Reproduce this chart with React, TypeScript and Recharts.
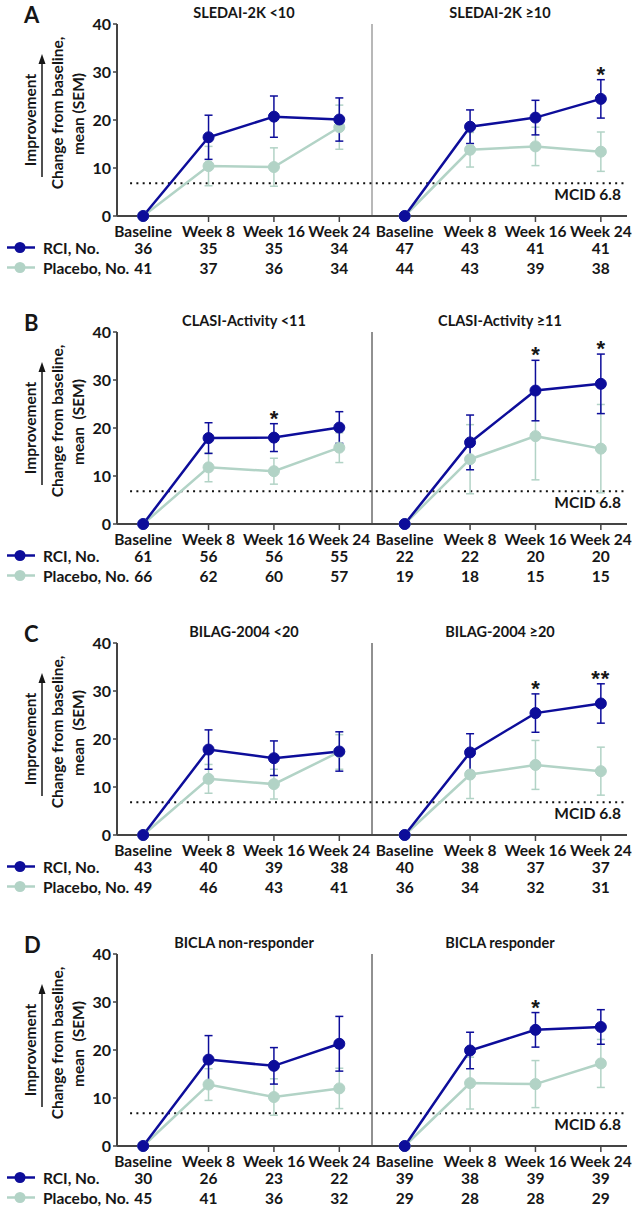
import React from 'react'
import { LineChart, Line, XAxis, YAxis, ErrorBar, ReferenceLine } from 'recharts'

const WEEKS = ['Baseline', 'Week 8', 'Week 16', 'Week 24']
const X_POS = [0, 1, 2, 3, 4, 5, 6, 7]
const Y_TICKS = [0, 10, 20, 30, 40]
const MCID = 6.8

const RCI_COLOR = '#0d0d9a'
const PBO_COLOR = '#b2d3c6'
const TEXT = '#161616'
const AXIS = '#444'
const FONT = 'Lato, "Open Sans", sans-serif'

// A: SLEDAI-2K (left 4 points, then right 4 points)
const A_TITLES = ['SLEDAI-2K <10', 'SLEDAI-2K ≥10']
const A_RCI_MEAN = [0, 16.4, 20.7, 20.1, 0, 18.6, 20.5, 24.4]
const A_RCI_SEM = [0, 4.6, 4.3, 4.5, 0, 3.5, 3.6, 4.0]
const A_PBO_MEAN = [0, 10.4, 10.2, 18.5, 0, 13.8, 14.5, 13.4]
const A_PBO_SEM = [0, 4.1, 4.0, 4.6, 0, 3.6, 4.0, 4.1]
const A_RCI_N = [36, 35, 35, 34, 47, 43, 41, 41]
const A_PBO_N = [41, 37, 36, 34, 44, 43, 39, 38]
const A_STARS = ['', '', '', '', '', '', '', '*']

// B: CLASI-Activity
const B_TITLES = ['CLASI-Activity <11', 'CLASI-Activity ≥11']
const B_RCI_MEAN = [0, 17.9, 18.0, 20.1, 0, 17.0, 27.8, 29.2]
const B_RCI_SEM = [0, 3.2, 2.9, 3.3, 0, 5.7, 6.3, 6.2]
const B_PBO_MEAN = [0, 11.8, 11.0, 15.9, 0, 13.5, 18.3, 15.7]
const B_PBO_SEM = [0, 3.0, 2.7, 3.1, 0, 7.2, 9.1, 9.2]
const B_RCI_N = [61, 56, 56, 55, 22, 22, 20, 20]
const B_PBO_N = [66, 62, 60, 57, 19, 18, 15, 15]
const B_STARS = ['', '', '*', '', '', '', '*', '*']

// C: BILAG-2004
const C_TITLES = ['BILAG-2004 <20', 'BILAG-2004 ≥20']
const C_RCI_MEAN = [0, 17.8, 16.0, 17.4, 0, 17.2, 25.4, 27.4]
const C_RCI_SEM = [0, 4.1, 3.6, 4.1, 0, 3.9, 4.0, 4.1]
const C_PBO_MEAN = [0, 11.7, 10.6, 17.3, 0, 12.6, 14.6, 13.3]
const C_PBO_SEM = [0, 3.0, 3.1, 3.6, 0, 5.0, 5.1, 5.0]
const C_RCI_N = [43, 40, 39, 38, 40, 38, 37, 37]
const C_PBO_N = [49, 46, 43, 41, 36, 34, 32, 31]
const C_STARS = ['', '', '', '', '', '', '*', '**']

// D: BICLA
const D_TITLES = ['BICLA non-responder', 'BICLA responder']
const D_RCI_MEAN = [0, 18.0, 16.7, 21.3, 0, 19.9, 24.2, 24.8]
const D_RCI_SEM = [0, 5.0, 3.8, 5.7, 0, 3.8, 3.6, 3.6]
const D_PBO_MEAN = [0, 12.8, 10.2, 12.0, 0, 13.1, 12.9, 17.2]
const D_PBO_SEM = [0, 3.3, 3.8, 4.2, 0, 5.4, 4.9, 5.0]
const D_RCI_N = [30, 26, 23, 22, 39, 38, 39, 39]
const D_PBO_N = [45, 41, 36, 32, 29, 28, 28, 29]
const D_STARS = ['', '', '', '', '', '', '*', '']

type Panel = {
  letter: string
  top: number
  titles: string[]
  rciMean: number[]
  rciSem: number[]
  pboMean: number[]
  pboSem: number[]
  rciN: number[]
  pboN: number[]
  stars: string[]
  dividerColor: string
  dividerWidth: number
  semLabel: string
}

const PANELS: Panel[] = [
  { letter: 'A', top: 0, titles: A_TITLES, rciMean: A_RCI_MEAN, rciSem: A_RCI_SEM, pboMean: A_PBO_MEAN, pboSem: A_PBO_SEM, rciN: A_RCI_N, pboN: A_PBO_N, stars: A_STARS, dividerColor: '#a0a0a0', dividerWidth: 1.5, semLabel: 'mean (SEM)' },
  { letter: 'B', top: 308, titles: B_TITLES, rciMean: B_RCI_MEAN, rciSem: B_RCI_SEM, pboMean: B_PBO_MEAN, pboSem: B_PBO_SEM, rciN: B_RCI_N, pboN: B_PBO_N, stars: B_STARS, dividerColor: '#222', dividerWidth: 1, semLabel: 'mean  (SEM)' },
  { letter: 'C', top: 619, titles: C_TITLES, rciMean: C_RCI_MEAN, rciSem: C_RCI_SEM, pboMean: C_PBO_MEAN, pboSem: C_PBO_SEM, rciN: C_RCI_N, pboN: C_PBO_N, stars: C_STARS, dividerColor: '#222', dividerWidth: 1, semLabel: 'mean  (SEM)' },
  { letter: 'D', top: 930, titles: D_TITLES, rciMean: D_RCI_MEAN, rciSem: D_RCI_SEM, pboMean: D_PBO_MEAN, pboSem: D_PBO_SEM, rciN: D_RCI_N, pboN: D_PBO_N, stars: D_STARS, dividerColor: '#222', dividerWidth: 1, semLabel: 'mean  (SEM)' },
]

const W = 638
const H = 310
const PLOT_TOP = 24
const PLOT_LEFT = 117
const PLOT_RIGHT = 11
const XAXIS_H = 94

function buildRows(p: Panel) {
  return X_POS.map((x, i) => {
    const left = i < 4
    return {
      x,
      rciL: left ? p.rciMean[i] : null,
      rciLErr: left ? p.rciSem[i] : null,
      rciR: left ? null : p.rciMean[i],
      rciRErr: left ? null : p.rciSem[i],
      pboL: left ? p.pboMean[i] : null,
      pboLErr: left ? p.pboSem[i] : null,
      pboR: left ? null : p.pboMean[i],
      pboRErr: left ? null : p.pboSem[i],
      // asterisk sits on top of the RCI error bar
      star: p.stars[i] ? p.rciMean[i] + p.rciSem[i] : null,
      starText: p.stars[i],
    }
  })
}

const renderStar = (props: any) => {
  const { cx, cy, payload, index } = props
  if (cy == null || !payload?.starText) return <g key={`st-${index}`} />
  return (
    <text key={`st-${index}`} x={cx} y={cy + 2} textAnchor="middle" fontFamily="'Liberation Sans', Arial, sans-serif" fontSize={22} fontWeight={700} fill={TEXT} letterSpacing={payload.starText.length > 1 ? 1 : 0}>
      {payload.starText}
    </text>
  )
}

const makeTick = (p: Panel) => (props: any) => {
  const { x, y, payload } = props
  const i = payload.value as number
  const common = { x, textAnchor: 'middle' as const, dominantBaseline: 'central' as const, fontSize: 15.5, fontWeight: 700, fill: TEXT }
  return (
    <g>
      <text {...common} y={y + 7}>{WEEKS[i % 4]}</text>
      <text {...common} y={y + 23.5}>{p.rciN[i]}</text>
      <text {...common} y={y + 43.5}>{p.pboN[i]}</text>
    </g>
  )
}

function PanelChart({ p }: { p: Panel }) {
  const rows = buildRows(p)
  const dotR = { r: 5.5, fill: RCI_COLOR, stroke: RCI_COLOR, strokeWidth: 1 }
  const dotP = { r: 5.5, fill: PBO_COLOR, stroke: PBO_COLOR, strokeWidth: 1 }
  const zeroY = H - XAXIS_H
  const legendY = [zeroY + 31.5, zeroY + 51.5]
  return (
    <div style={{ position: 'absolute', left: 0, top: p.top, width: W, height: H }}>
      <LineChart width={W} height={H} data={rows} margin={{ top: PLOT_TOP, right: PLOT_RIGHT, left: 0, bottom: 0 }}>
        <XAxis
          dataKey="x"
          type="number"
          domain={[-0.4, 7.4]}
          ticks={X_POS}
          interval={0}
          height={XAXIS_H}
          tickSize={6}
          tickMargin={2}
          axisLine={{ stroke: AXIS, strokeWidth: 2 }}
          tickLine={{ stroke: AXIS, strokeWidth: 1.5 }}
          tick={makeTick(p)}
        />
        <YAxis
          type="number"
          domain={[0, 40]}
          ticks={Y_TICKS}
          interval={0}
          width={PLOT_LEFT}
          tickSize={4}
          tickMargin={2}
          axisLine={{ stroke: AXIS, strokeWidth: 2 }}
          tickLine={{ stroke: AXIS, strokeWidth: 1.5 }}
          tick={{ fontSize: 16, fontWeight: 700, fill: TEXT }}
        />
        <ReferenceLine x={3.5} stroke={p.dividerColor} strokeWidth={p.dividerWidth} />
        <ReferenceLine
          segment={[{ x: -0.2, y: MCID }, { x: 7.4, y: MCID }]}
          stroke="#111"
          strokeWidth={2}
          strokeDasharray="2 4.3"
          label={{ value: 'MCID 6.8', position: 'insideTopRight', offset: 6, fontSize: 15.5, fontWeight: 700, fill: TEXT }}
        />
        <Line dataKey="pboL" stroke={PBO_COLOR} strokeWidth={2.5} dot={dotP} activeDot={false} isAnimationActive={false} connectNulls={false}>
          <ErrorBar dataKey="pboLErr" width={4} stroke={PBO_COLOR} strokeWidth={1.5} direction="y" />
        </Line>
        <Line dataKey="pboR" stroke={PBO_COLOR} strokeWidth={2.5} dot={dotP} activeDot={false} isAnimationActive={false} connectNulls={false}>
          <ErrorBar dataKey="pboRErr" width={4} stroke={PBO_COLOR} strokeWidth={1.5} direction="y" />
        </Line>
        <Line dataKey="rciL" stroke={RCI_COLOR} strokeWidth={2.5} dot={dotR} activeDot={false} isAnimationActive={false} connectNulls={false}>
          <ErrorBar dataKey="rciLErr" width={4} stroke={RCI_COLOR} strokeWidth={1.5} direction="y" />
        </Line>
        <Line dataKey="rciR" stroke={RCI_COLOR} strokeWidth={2.5} dot={dotR} activeDot={false} isAnimationActive={false} connectNulls={false}>
          <ErrorBar dataKey="rciRErr" width={4} stroke={RCI_COLOR} strokeWidth={1.5} direction="y" />
        </Line>
        <Line dataKey="star" stroke="none" dot={renderStar} activeDot={false} isAnimationActive={false} legendType="none" />
      </LineChart>

      {/* labels, legend and y-axis title */}
      <svg width={W} height={H} style={{ position: 'absolute', left: 0, top: 0, pointerEvents: 'none', fontFamily: FONT }}>
        <text x={24} y={23} fontSize={22} fontWeight={700} fill={TEXT}>{p.letter}</text>
        <text x={244} y={18} textAnchor="middle" fontSize={14.5} fontWeight={700} fill={TEXT}>{p.titles[0]}</text>
        <text x={500} y={18} textAnchor="middle" fontSize={14.5} fontWeight={700} fill={TEXT}>{p.titles[1]}</text>

        <text transform="translate(30,120) rotate(-90)" textAnchor="middle" dominantBaseline="central" fontSize={15.5} fontWeight={700} fill={TEXT}>Improvement</text>
        <line x1={42} y1={177} x2={42} y2={62} stroke={TEXT} strokeWidth={1.5} />
        <polygon points="42,54 38.5,64 45.5,64" fill={TEXT} />
        <text transform="translate(57,113) rotate(-90)" textAnchor="middle" dominantBaseline="central" fontSize={15.5} fontWeight={700} fill={TEXT}>Change from baseline,</text>
        <text transform="translate(78,114) rotate(-90)" textAnchor="middle" dominantBaseline="central" fontSize={15.5} fontWeight={700} fill={TEXT} style={{ whiteSpace: 'pre' }}>{p.semLabel}</text>

        <line x1={7} y1={legendY[0]} x2={35} y2={legendY[0]} stroke={RCI_COLOR} strokeWidth={2.5} />
        <circle cx={20} cy={legendY[0]} r={5.5} fill={RCI_COLOR} />
        <text x={43} y={legendY[0]} dominantBaseline="central" fontSize={15.5} fontWeight={700} fill={TEXT}>RCI, No.</text>
        <line x1={7} y1={legendY[1]} x2={35} y2={legendY[1]} stroke={PBO_COLOR} strokeWidth={2.5} />
        <circle cx={20} cy={legendY[1]} r={5.5} fill={PBO_COLOR} />
        <text x={43} y={legendY[1]} dominantBaseline="central" fontSize={15.5} fontWeight={700} fill={TEXT}>Placebo, No.</text>
      </svg>
    </div>
  )
}

export default function App() {
  return (
    <div style={{ position: 'absolute', left: 0, top: 0, width: W, height: 1210, background: '#fff', fontFamily: FONT }}>
      {PANELS.map(p => (
        <PanelChart key={p.letter} p={p} />
      ))}
    </div>
  )
}
